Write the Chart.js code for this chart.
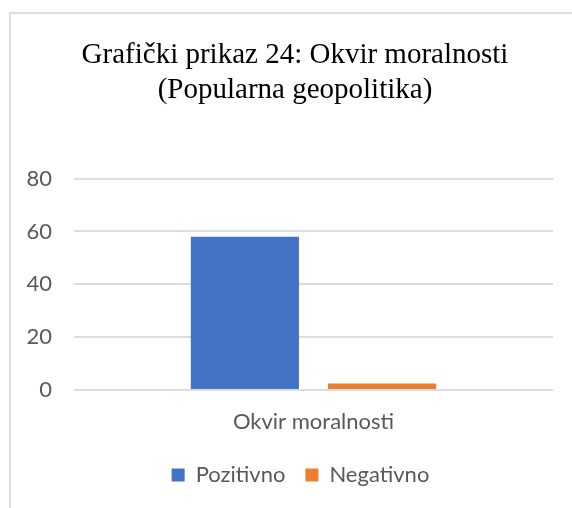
<!DOCTYPE html>
<html>
<head>
<meta charset="utf-8">
<script src="https://cdn.jsdelivr.net/npm/chart.js@4/dist/chart.umd.min.js"></script>
<style>
  html, body { margin: 0; padding: 0; background: #ffffff; overflow: hidden; }
  #frame { position: absolute; left: 9px; top: 12px; width: 700px; height: 700px; border-left: 2px solid #dedede; border-top: 2px solid #dedede; box-sizing: border-box; }
  #c { position: absolute; left: 0; top: 0; }
</style>
</head>
<body>
<div id="frame"></div>
<canvas id="c" width="572" height="508"></canvas>
<script>
const titleLines = ["Grafički prikaz 24: Okvir moralnosti", "(Popularna geopolitika)"];
const categories = ["Okvir moralnosti"];
const seriesNames = ["Pozitivno", "Negativno"];
const pozitivno = [58];
const negativno = [2.5];
const yTicks = [0, 20, 40, 60, 80];
const colors = ["#4472c4", "#ed7d31"];

const tickFont = { family: "Lato", size: 22 };
const textColor = "#595959";

// The original chart's title and legend are centred on a wider frame than the visible crop
const shiftPlugin = {
  id: "shiftBoxes",
  afterLayout(chart) {
    const t = chart.titleBlock;
    if (t) { t.left += 18.5; t.right += 18.5; }
    const l = chart.legend;
    if (l) { l.left += 24; l.right += 24; }
  }
};

new Chart(document.getElementById("c"), {
  type: "bar",
  data: {
    labels: categories,
    datasets: [
      { label: seriesNames[0], data: pozitivno, backgroundColor: colors[0], categoryPercentage: 0.573, barPercentage: 0.788 },
      { label: seriesNames[1], data: negativno, backgroundColor: colors[1], categoryPercentage: 0.573, barPercentage: 0.788 }
    ]
  },
  plugins: [shiftPlugin],
  options: {
    responsive: false,
    animation: false,
    layout: { padding: { left: 0, right: 19, top: 0, bottom: 12 } },
    plugins: {
      title: {
        display: true,
        text: titleLines,
        color: "#000000",
        font: { family: "Liberation Serif", size: 29, weight: "normal", lineHeight: 1.2 },
        padding: { top: 38, bottom: 71 }
      },
      legend: {
        position: "bottom",
        labels: {
          color: textColor,
          font: tickFont,
          boxWidth: 13,
          boxHeight: 13,
          padding: 20
        }
      },
      tooltip: { enabled: false }
    },
    scales: {
      x: {
        afterFit: (s) => { s.height = 54; },
        grid: { display: false, drawTicks: false },
        border: { display: false },
        ticks: { color: textColor, font: tickFont, padding: 19 }
      },
      y: {
        min: 0,
        max: 80,
        afterBuildTicks: (s) => { s.ticks = yTicks.map(v => ({ value: v })); },
        afterFit: (s) => { s.width = 74; },
        grid: { color: "#dcdcdc", lineWidth: 2, drawTicks: false },
        border: { display: false },
        ticks: { color: textColor, font: tickFont, padding: 22 }
      }
    }
  }
});
</script>
</body>
</html>
